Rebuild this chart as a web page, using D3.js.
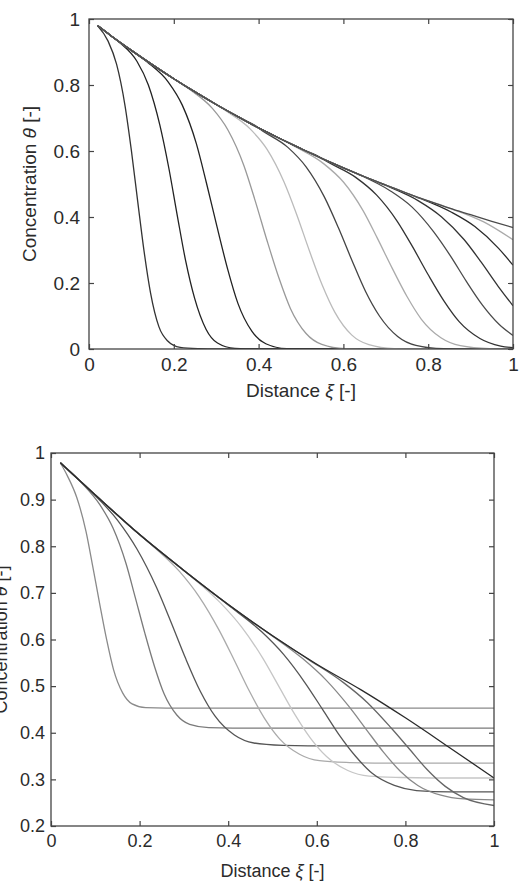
<!DOCTYPE html>
<html lang="en">
<head>
<meta charset="UTF-8">
<title></title>
<style>
  body { margin: 0; background: #fff; }
  svg text { font-family: "Liberation Sans", Arial, sans-serif; fill: #2b2b2b; }
  .axis path { display: none; }
  .axis line { stroke: #444; stroke-width: 1.2; }
  .frame { fill: none; stroke: #444; stroke-width: 1.3; }
  .curve { fill: none; stroke-width: 1.3; stroke-linejoin: round; }
</style>
</head>
<body>
<svg id="chart" width="522" height="890"></svg>
<script src="https://cdn.jsdelivr.net/npm/d3@7"></script>
<script>
// ---- top panel data (xi, theta) ----
var topXTicks = [0, 0.2, 0.4, 0.6, 0.8, 1];
var topYTicks = [0, 0.2, 0.4, 0.6, 0.8, 1];

var topEnvelope = [[0.02,0.98],[0.05,0.951],[0.1,0.905],[0.15,0.861],[0.2,0.819],[0.25,0.779],[0.3,0.741],
  [0.35,0.705],[0.4,0.67],[0.45,0.638],[0.5,0.607],[0.55,0.577],[0.6,0.549],[0.65,0.522],[0.7,0.497],
  [0.75,0.472],[0.8,0.449],[0.85,0.427],[0.9,0.407],[0.95,0.387],[1,0.368]];

// each front follows the envelope until its first point
var topFronts = [
  [[0.045,0.933],[0.065,0.863],[0.085,0.737],[0.1,0.601],[0.115,0.446],[0.13,0.295],[0.145,0.171],[0.165,0.067],[0.185,0.025],[0.215,0.005],[0.26,0.001],[0.3,0],[1,0]],
  [[0.072,0.929],[0.113,0.872],[0.14,0.8],[0.167,0.679],[0.188,0.55],[0.208,0.406],[0.228,0.267],[0.249,0.154],[0.276,0.06],[0.303,0.018],[0.344,0.002],[0.4,0],[1,0]],
  [[0.138,0.869],[0.187,0.809],[0.22,0.739],[0.253,0.623],[0.277,0.503],[0.302,0.37],[0.327,0.242],[0.351,0.139],[0.384,0.054],[0.417,0.016],[0.466,0.001],[0.53,0],[1,0]],
  [[0.236,0.788],[0.291,0.729],[0.328,0.663],[0.365,0.557],[0.392,0.449],[0.42,0.328],[0.448,0.215],[0.475,0.123],[0.512,0.047],[0.549,0.014],[0.604,0.001],[0.67,0],[1,0]],
  [[0.32,0.724],[0.38,0.667],[0.42,0.605],[0.46,0.506],[0.49,0.407],[0.52,0.297],[0.55,0.194],[0.58,0.111],[0.62,0.042],[0.66,0.013],[0.72,0.001],[0.79,0],[1,0]],
  [[0.404,0.666],[0.469,0.611],[0.512,0.552],[0.555,0.461],[0.588,0.368],[0.62,0.269],[0.652,0.175],[0.685,0.1],[0.728,0.038],[0.771,0.011],[0.836,0.001],[0.9,0],[1,0]],
  [[0.485,0.614],[0.554,0.561],[0.6,0.506],[0.646,0.42],[0.68,0.336],[0.715,0.245],[0.75,0.159],[0.784,0.09],[0.83,0.034],[0.876,0.01],[0.945,0.001],[1,0]],
  [[0.556,0.572],[0.629,0.52],[0.678,0.467],[0.727,0.387],[0.763,0.31],[0.8,0.225],[0.837,0.146],[0.873,0.083],[0.922,0.032],[0.971,0.009],[1,0.004]],
  [[0.634,0.53],[0.711,0.479],[0.762,0.43],[0.813,0.355],[0.852,0.283],[0.89,0.205],[0.928,0.133],[0.967,0.075],[1,0.041]],
  [[0.697,0.497],[0.777,0.449],[0.831,0.401],[0.885,0.331],[0.925,0.263],[0.965,0.19],[1,0.131]],
  [[0.77,0.462],[0.854,0.415],[0.91,0.371],[0.966,0.305],[1,0.254]],
  [[0.843,0.43],[0.931,0.385],[1,0.331]]
];
var topShades = ["#333","#222","#222","#999","#bbb","#444","#aaa","#333","#4a4a4a","#333","#2a2a2a","#aaa"];

// ---- bottom panel data ----
var botXTicks = [0, 0.2, 0.4, 0.6, 0.8, 1];
var botYTicks = [0.2, 0.3, 0.4, 0.5, 0.6, 0.7, 0.8, 0.9, 1];

var botEnvelope = [[0.021,0.979],[0.1,0.91],[0.2,0.825],[0.3,0.748],[0.4,0.675],[0.5,0.608],[0.6,0.547],
  [0.7,0.492],[0.8,0.432],[0.9,0.368],[1,0.303]];

// fronts drop from the envelope onto a flat plateau
var botFronts = [
  [[0.037,0.951],[0.058,0.905],[0.079,0.832],[0.094,0.758],[0.11,0.676],[0.126,0.598],[0.141,0.536],[0.162,0.485],[0.183,0.462],[0.214,0.454],[0.26,0.453],[1,0.453]],
  [[0.068,0.937],[0.111,0.888],[0.14,0.839],[0.169,0.764],[0.19,0.691],[0.212,0.613],[0.234,0.541],[0.255,0.484],[0.284,0.438],[0.313,0.418],[0.356,0.411],[0.41,0.41],[1,0.41]],
  [[0.084,0.923],[0.15,0.856],[0.194,0.794],[0.238,0.712],[0.271,0.637],[0.304,0.559],[0.337,0.489],[0.37,0.436],[0.414,0.395],[0.458,0.378],[0.524,0.373],[0.58,0.372],[1,0.372]],
  [[0.222,0.807],[0.29,0.746],[0.335,0.691],[0.38,0.619],[0.414,0.555],[0.448,0.489],[0.482,0.431],[0.516,0.387],[0.561,0.354],[0.606,0.34],[0.674,0.336],[0.73,0.335],[1,0.335]],
  [[0.31,0.74],[0.382,0.679],[0.43,0.627],[0.478,0.56],[0.514,0.5],[0.55,0.44],[0.586,0.388],[0.622,0.349],[0.67,0.319],[0.718,0.307],[0.79,0.304],[0.86,0.303],[1,0.303]],
  [[0.4,0.674],[0.475,0.617],[0.525,0.568],[0.575,0.505],[0.613,0.45],[0.65,0.396],[0.688,0.349],[0.725,0.313],[0.775,0.287],[0.825,0.276],[0.9,0.273],[1,0.273]],
  [[0.49,0.614],[0.568,0.559],[0.62,0.514],[0.672,0.457],[0.711,0.408],[0.75,0.359],[0.789,0.317],[0.828,0.287],[0.88,0.266],[0.932,0.258],[1,0.256]],
  [[0.58,0.558],[0.661,0.507],[0.715,0.464],[0.769,0.409],[0.81,0.364],[0.85,0.32],[0.89,0.285],[0.931,0.261],[1,0.244]]
];
var botShades = ["#8a8a8a","#7a7a7a","#555","#aaa","#c6c6c6","#555","#888","#666"];

var svg = d3.select("#chart");
var fmt = d3.format("~g");

function panel(o) {
  var g = svg.append("g");
  var x = d3.scaleLinear().domain([0, 1]).range([o.x0, o.x1]);
  var y = d3.scaleLinear().domain(o.yDom).range([o.y1, o.y0]);
  var line = d3.line()
      .x(function(d) { return x(d[0]); })
      .y(function(d) { return y(d[1]); })
      .curve(d3.curveMonotoneX);

  var clipId = "clip" + o.id;
  g.append("clipPath").attr("id", clipId)
    .append("rect").attr("x", o.x0).attr("y", o.y0)
    .attr("width", o.x1 - o.x0).attr("height", o.y1 - o.y0);
  var plot = g.append("g").attr("clip-path", "url(#" + clipId + ")");

  o.fronts.forEach(function(f, i) {
    var pts = o.env.filter(function(p) { return p[0] < f[0][0]; }).concat(f);
    plot.append("path").attr("class", "curve")
      .attr("stroke", o.shades[i]).attr("d", line(pts));
  });
  plot.append("path").attr("class", "curve")
    .attr("stroke", o.envShade).attr("stroke-width", o.envWidth).attr("d", line(o.env));

  // inward ticks on all four sides
  var bx = g.append("g").attr("class", "axis").attr("transform", "translate(0," + o.y1 + ")")
    .call(d3.axisBottom(x).tickValues(o.xTicks).tickSize(-5).tickPadding(o.xPad).tickFormat(fmt));
  g.append("g").attr("class", "axis").attr("transform", "translate(0," + o.y0 + ")")
    .call(d3.axisTop(x).tickValues(o.xTicks).tickSize(-5).tickFormat(""));
  var ly = g.append("g").attr("class", "axis").attr("transform", "translate(" + o.x0 + ",0)")
    .call(d3.axisLeft(y).tickValues(o.yTicks).tickSize(-5).tickPadding(o.yPad).tickFormat(fmt));
  g.append("g").attr("class", "axis").attr("transform", "translate(" + o.x1 + ",0)")
    .call(d3.axisRight(y).tickValues(o.yTicks).tickSize(-5).tickFormat(""));
  [bx, ly].forEach(function(a) {
    a.attr("font-family", null).attr("font-size", o.fs);
    a.selectAll("text").attr("fill", null);
  });

  g.append("rect").attr("class", "frame")
    .attr("x", o.x0).attr("y", o.y0).attr("width", o.x1 - o.x0).attr("height", o.y1 - o.y0);

  var xl = g.append("text").attr("x", (o.x0 + o.x1) / 2).attr("y", o.xLabelY)
    .attr("text-anchor", "middle").attr("font-size", o.fs);
  xl.append("tspan").text("Distance ");
  xl.append("tspan").attr("font-style", "italic").text("ξ");
  xl.append("tspan").text(" [-]");

  var yl = g.append("text")
    .attr("transform", "translate(" + o.yLabelX + "," + (o.y0 + o.y1) / 2 + ") rotate(-90)")
    .attr("text-anchor", "middle").attr("font-size", o.fs);
  yl.append("tspan").text("Concentration ");
  yl.append("tspan").attr("font-style", "italic").text("θ");
  yl.append("tspan").text(" [-]");
}

panel({
  id: "top", x0: 89, x1: 513, y0: 19, y1: 349, yDom: [0, 1],
  xTicks: topXTicks, yTicks: topYTicks, xPad: 9, yPad: 9, fs: 19,
  env: topEnvelope, fronts: topFronts, shades: topShades, envShade: "#4a4a4a", envWidth: 1.5,
  xLabelY: 397, yLabelX: 36
});

panel({
  id: "bot", x0: 51, x1: 494, y0: 453, y1: 826, yDom: [0.2, 1],
  xTicks: botXTicks, yTicks: botYTicks, xPad: 8, yPad: 6, fs: 18,
  env: botEnvelope, fronts: botFronts, shades: botShades, envShade: "#2a2a2a", envWidth: 1.7,
  xLabelY: 877, yLabelX: 7
});
</script>
</body>
</html>
